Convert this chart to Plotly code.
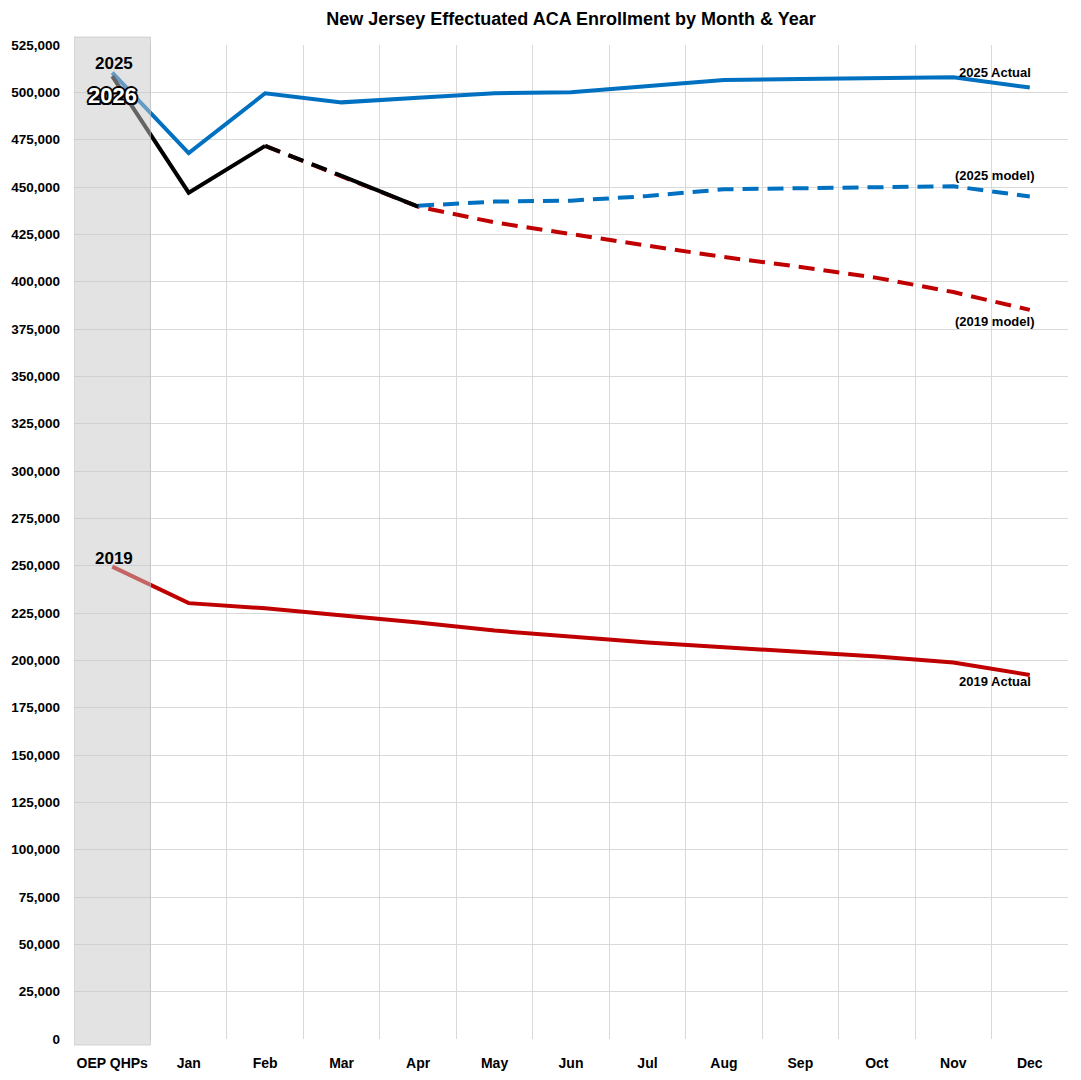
import plotly.graph_objects as go

months = ["OEP QHPs", "Jan", "Feb", "Mar", "Apr", "May", "Jun", "Jul", "Aug", "Sep", "Oct", "Nov", "Dec"]

actual_2025 = [510400, 467900, 499500, 494700, 497200, 499500, 500000, 503000, 506500, 507000, 507700, 508000, 502500]
actual_2019 = [249500, 230200, 227500, 224000, 220000, 215700, 212500, 209400, 206900, 204600, 202000, 198800, 192300]
actual_2026 = [508600, 447000, 471700, 455900, 439600]

model_2025_months = months[4:]
model_2025 = [440100, 442300, 442800, 445200, 448800, 449300, 449800, 450400, 445000]
model_2019_months = months[2:]
model_2019 = [471700, 455900, 439600, 431300, 425000, 419000, 413000, 407800, 402000, 394500, 385100]

y_ticks = list(range(0, 525001, 25000))
y_tick_text = [f"{v:,}" for v in y_ticks]

BLUE = "#0070C0"
RED = "#C00000"
BLACK = "#000000"
LW = 4
DASH = "16px,9px"

fig = go.Figure()

fig.add_trace(go.Scatter(x=months, y=actual_2019, mode="lines",
                         line=dict(color=RED, width=LW), showlegend=False, hoverinfo="skip"))
fig.add_trace(go.Scatter(x=model_2019_months, y=model_2019, mode="lines",
                         line=dict(color=RED, width=LW, dash=DASH), showlegend=False, hoverinfo="skip"))
fig.add_trace(go.Scatter(x=model_2025_months, y=model_2025, mode="lines",
                         line=dict(color=BLUE, width=LW, dash=DASH), showlegend=False, hoverinfo="skip"))
fig.add_trace(go.Scatter(x=months, y=actual_2025, mode="lines",
                         line=dict(color=BLUE, width=LW), showlegend=False, hoverinfo="skip"))
# 2026: solid OEP-Feb, dashed Feb-Mar, solid Mar-Apr
fig.add_trace(go.Scatter(x=months[0:3], y=actual_2026[0:3], mode="lines",
                         line=dict(color=BLACK, width=LW), showlegend=False, hoverinfo="skip"))
fig.add_trace(go.Scatter(x=months[2:4], y=actual_2026[2:4], mode="lines",
                         line=dict(color=BLACK, width=LW, dash=DASH), showlegend=False, hoverinfo="skip"))
fig.add_trace(go.Scatter(x=months[3:5], y=actual_2026[3:5], mode="lines",
                         line=dict(color=BLACK, width=LW), showlegend=False, hoverinfo="skip"))

# page has an 8px body margin: figure starts at (8, 8) in the window
L, R, T, B = 66, 13, 37, 41
W, H = 1073, 1072
pw, ph = W - L - R, H - T - B

shapes = [
    dict(type="rect", xref="x", yref="paper", x0=-0.5, x1=0.5,
         y0=-6 / ph, y1=1 + 8 / ph, layer="above",
         fillcolor="rgba(200,200,200,0.5)", line=dict(color="rgba(190,190,190,0.6)", width=1)),
]

FAM = "Liberation Sans, Arial"
lab_font = dict(family=FAM, size=13, color="black", weight="bold")
big_black = dict(family=FAM, size=17, color="black", weight="bold")
outline = ("2px 0 0 #000, -2px 0 0 #000, 0 2px 0 #000, 0 -2px 0 #000, "
           "1.5px 1.5px 0 #000, -1.5px -1.5px 0 #000, 1.5px -1.5px 0 #000, -1.5px 1.5px 0 #000")

annotations = [
    dict(x=months[0], y=actual_2025[0], text="2025", showarrow=False, yshift=9, xshift=2, font=big_black),
    dict(x=months[0], y=actual_2025[0], text="2026", showarrow=False, yshift=-23,
         font=dict(family=FAM, size=22, color="white", weight="bold", shadow=outline)),
    dict(x=months[0], y=actual_2019[0], text="2019", showarrow=False, yshift=8, xshift=2, font=big_black),
    dict(x=months[12], y=actual_2025[12], text="2025 Actual", showarrow=False, xshift=-35, yshift=15, font=lab_font),
    dict(x=months[12], y=model_2025[-1], text="(2025 model)", showarrow=False, xshift=-35, yshift=21, font=lab_font),
    dict(x=months[12], y=model_2019[-1], text="(2019 model)", showarrow=False, xshift=-35, yshift=-12, font=lab_font),
    dict(x=months[12], y=actual_2019[12], text="2019 Actual", showarrow=False, xshift=-35, yshift=-7, font=lab_font),
]

fig.update_layout(
    width=W, height=H,
    margin=dict(l=L, r=R, t=T, b=B, autoexpand=False),
    paper_bgcolor="white", plot_bgcolor="white",
    title=dict(text="New Jersey Effectuated ACA Enrollment by Month & Year",
               x=0.5, xref="paper", xanchor="center", y=1 - 11 / H, yanchor="middle",
               font=dict(family=FAM, size=18, color="black", weight="bold")),
    shapes=shapes,
    annotations=annotations,
    xaxis=dict(type="category", categoryorder="array", categoryarray=months,
               range=[-0.5, 12.5], tickson="boundaries", showgrid=True,
               gridcolor="#d9d9d9", gridwidth=1, ticks="", showline=False, zeroline=False,
               tickangle=0, automargin=False,
               tickfont=dict(family=FAM, size=14, color="black", weight="bold"),
               ticklabelstandoff=14),
    yaxis=dict(range=[0, 525000], tickvals=y_ticks, ticktext=y_tick_text,
               showgrid=True, gridcolor="#d9d9d9", gridwidth=1, zeroline=False,
               showline=False, ticks="", automargin=False,
               tickfont=dict(family=FAM, size=13.5, color="black", weight="bold"),
               ticklabelstandoff=13),
)

fig.write_html("out.html")
